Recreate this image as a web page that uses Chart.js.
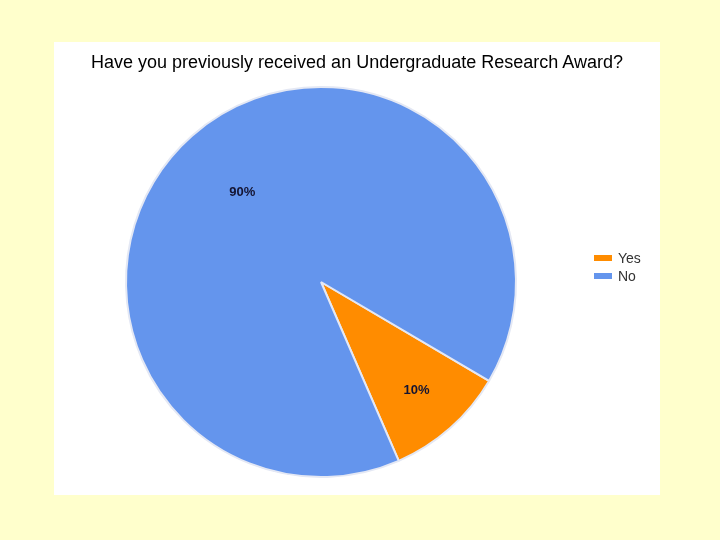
<!DOCTYPE html>
<html>
<head>
<meta charset="utf-8">
<script src="https://cdn.jsdelivr.net/npm/chart.js@4/dist/chart.umd.min.js"></script>
<style>
    body { margin: 0; background: #ffffcc; width: 720px; height: 540px; position: relative; font-family: "Liberation Sans", Arial, sans-serif; }
    #panel { position: absolute; left: 54px; top: 42px; width: 606px; height: 453px; background: #fff; }
    #title { position: absolute; left: 0; width: 606px; top: 10px; text-align: center; font-size: 18px; color: #000; }
    #legend { position: absolute; left: 540px; top: 207px; font-size: 14px; color: #333; }
    #legend div { height: 18px; line-height: 18px; }
    #legend span { display: inline-block; width: 18px; height: 6px; margin-right: 6px; vertical-align: middle; position: relative; top: -1px; }
    #chartBox { position: absolute; left: 0; top: 0; width: 606px; height: 453px; }
</style>
</head>
<body>
<div id="panel">
    <div id="chartBox"><canvas id="pieChart" width="606" height="453"></canvas></div>
    <div id="title">Have you previously received an Undergraduate Research Award?</div>
    <div id="legend"></div>
</div>
<script>
var categories = ['Yes', 'No'];
var percentages = [10, 90];
var sliceColors = ['#ff8c00', '#6495ed'];

// percentage text inside each slice, drawn from the arc geometry
var sliceLabels = {
    id: 'sliceLabels',
    afterDatasetsDraw: function (chart, args, opts) {
        var ctx = chart.ctx;
        var meta = chart.getDatasetMeta(0);
        ctx.save();
        ctx.font = 'bold 13px "Liberation Sans", Arial, sans-serif';
        ctx.fillStyle = '#141432';
        ctx.textAlign = 'center';
        ctx.textBaseline = 'middle';
        meta.data.forEach(function (arc, i) {
            var p = arc.getProps(['x', 'y', 'startAngle', 'endAngle', 'outerRadius']);
            var mid = (p.startAngle + p.endAngle) / 2;
            var r = p.outerRadius * opts.dist[i];
            ctx.fillText(percentages[i] + '%', p.x + Math.cos(mid) * r, p.y + Math.sin(mid) * r);
        });
        ctx.restore();
    }
};

var legend = document.getElementById('legend');
categories.forEach(function (c, i) {
    var row = document.createElement('div');
    row.innerHTML = '<span style="background:' + sliceColors[i] + '"></span>' + c;
    legend.appendChild(row);
});

var ctx = document.getElementById('pieChart').getContext('2d');
var pieChart = new Chart(ctx, {
    type: 'pie',
    data: {
        labels: categories,
        datasets: [{
            data: percentages,
            backgroundColor: sliceColors,
            borderColor: '#e4e8f4',
            borderWidth: 2
        }]
    },
    options: {
        responsive: false,
        animation: false,
        rotation: 120.5,
        layout: {
            padding: { left: 71, right: 143, top: 44, bottom: 17 }
        },
        plugins: {
            legend: { display: false },
            tooltip: { enabled: false },
            sliceLabels: { dist: [0.74, 0.61] }
        }
    },
    plugins: [sliceLabels]
});
</script>
</body>
</html>
